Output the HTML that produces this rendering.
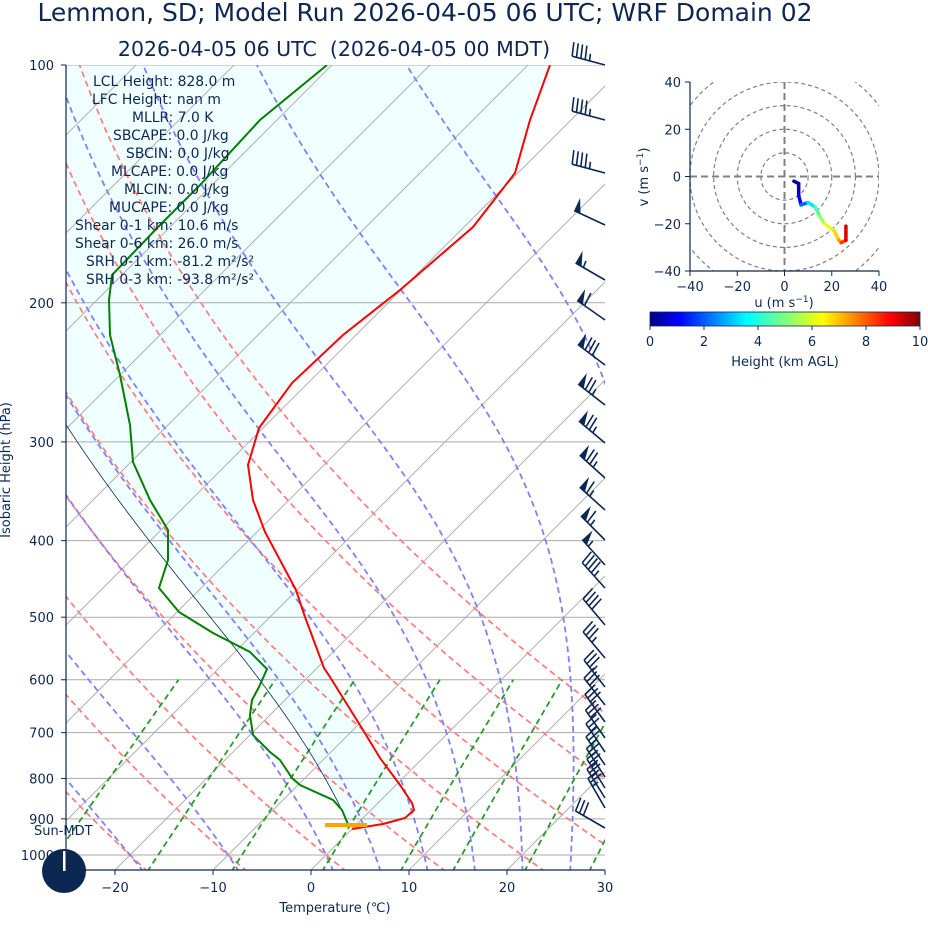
<!DOCTYPE html>
<html><head><meta charset="utf-8"><style>
html,body{margin:0;padding:0;background:#fff;}
svg{display:block;font-family:"DejaVu Sans","Liberation Sans",sans-serif;}
</style></head><body>
<svg id="s" width="928" height="936" viewBox="0 0 928 936" xmlns="http://www.w3.org/2000/svg">
<defs>
<clipPath id="pc"><rect x="66" y="65" width="539" height="805"/></clipPath>
<clipPath id="hc"><rect x="690" y="82" width="189" height="189"/></clipPath>
<linearGradient id="jet" x1="0" x2="1" y1="0" y2="0">
<stop offset="0" stop-color="#00007f"/><stop offset="0.11" stop-color="#0000ff"/><stop offset="0.36" stop-color="#00ffff"/><stop offset="0.5" stop-color="#7fff7f"/><stop offset="0.64" stop-color="#ffff00"/><stop offset="0.89" stop-color="#ff0000"/><stop offset="1" stop-color="#7f0000"/>
</linearGradient>
</defs>
<g id="plot" clip-path="url(#pc)"></g>
<g id="over"></g>
<text x="425" y="21" font-size="25" text-anchor="middle" fill="#0d2753">Lemmon, SD; Model Run 2026-04-05 06 UTC; WRF Domain 02</text>
<text x="334" y="56" font-size="20.5" text-anchor="middle" fill="#0d2753" xml:space="preserve">2026-04-05 06 UTC  (2026-04-05 00 MDT)</text>
<g font-size="13.9" fill="#0d2753">
<text x="93" y="86">LCL Height: 828.0 m</text>
<text x="92" y="104">LFC Height: nan m</text>
<text x="132" y="122">MLLR: 7.0 K</text>
<text x="113" y="140">SBCAPE: 0.0 J/kg</text>
<text x="126" y="158">SBCIN: 0.0 J/kg</text>
<text x="111" y="176">MLCAPE: 0.0 J/kg</text>
<text x="124" y="194">MLCIN: 0.0 J/kg</text>
<text x="109" y="212">MUCAPE: 0.0 J/kg</text>
<text x="75" y="230">Shear 0-1 km: 10.6 m/s</text>
<text x="75" y="248">Shear 0-6 km: 26.0 m/s</text>
<text x="86" y="266">SRH 0-1 km: -81.2 m²/s²</text>
<text x="86" y="284">SRH 0-3 km: -93.8 m²/s²</text>
</g>
<g id="axes" fill="#0d2753" font-size="13"></g>
<text x="10" y="470" font-size="13" fill="#0d2753" text-anchor="middle" transform="rotate(-90 10 470)">Isobaric Height (hPa)</text>
<text x="335" y="912" font-size="13" fill="#0d2753" text-anchor="middle">Temperature (℃)</text>
<text x="34" y="835" font-size="13" fill="#0d2753">Sun-MDT</text>
<circle cx="64" cy="871" r="22" fill="#0d2753"/>
<rect x="63" y="851" width="2.5" height="20" fill="#fff"/>
<g id="hodo"></g>
<rect x="650" y="312" width="270" height="14" fill="url(#jet)"/>
<g font-size="13" fill="#0d2753" text-anchor="middle" id="cb"></g>
<text x="785" y="366" font-size="13" fill="#0d2753" text-anchor="middle">Height (km AGL)</text>
</svg>
<script>
(function(){
var NS="http://www.w3.org/2000/svg";
function el(parent,tag,attrs,txt){var e=document.createElementNS(NS,tag);for(var k in attrs)e.setAttribute(k,attrs[k]);if(txt!==undefined)e.textContent=txt;parent.appendChild(e);return e;}
function Y(p){return 65+790*Math.log10(p/100);}
function X(T,y){return 311+9.8*T+(870-y);}
var plot=document.getElementById('plot'),over=document.getElementById('over'),axes=document.getElementById('axes');
function poly(g,pts,attrs){var d=pts.map(function(q,i){return (i?'L':'M')+q[0].toFixed(1)+' '+q[1].toFixed(1);}).join(' ');attrs.d=d;attrs.fill=attrs.fill||'none';return el(g,'path',attrs);}
var Rd=287.04,cp=1005.7,Lv=2.501e6,eps=0.622;
function dTdp(p,T){var Tc=T-273.15;var es=6.112*Math.exp(17.67*Tc/(Tc+243.5));var rs=eps*es/(p-es);return (Rd*T+Lv*rs)/(cp+Lv*Lv*rs*eps/(Rd*T*T))/p;}
function moist(p0,T0,pend){var pts=[],p=p0,T=T0+273.15,h=(pend<p0?-2:2);pts.push([p,T]);while((h<0&&p>pend)||(h>0&&p<pend)){var k1=dTdp(p,T);var k2=dTdp(p+h,T+h*k1);T+=h*(k1+k2)/2;p+=h;pts.push([p,T]);}return pts;}
var temp=[[550,65],[530,120],[515,173],[473,227],[400,290],[343,335],[292,383],[259,428],[248,465],[253,500],[265,532],[296,590],[305,617],[324,668],[330,677],[363,730],[380,758],[400,785],[412,803],[414,810],[405,818],[383,824],[352,829]];
var dew=[[327,65],[260,120],[200,185],[160,225],[112,275],[109,300],[110,335],[120,375],[130,425],[133,462],[150,500],[168,530],[168,560],[159,588],[179,612],[213,633],[250,652],[267,669],[259,687],[252,700],[250,715],[253,735],[270,752],[280,760],[292,778],[300,785],[333,800],[342,810],[347,822],[349,826]];
var pp=moist(915,-0.8,100).map(function(q){var y=Y(q[0]);return [X(q[1]-273.15,y),y];});
// fill first
poly(plot,temp.concat(pp),{fill:'#f0ffff',stroke:'none'});
// isotherms
for(var T=-120;T<=40;T+=10){poly(plot,[[X(T,870),870],[X(T,65),65]],{stroke:'#b0b0b0','stroke-width':1});}
[100,200,300,400,500,600,700,800,900,1000].forEach(function(p){poly(plot,[[66,Y(p)],[605,Y(p)]],{stroke:'#aaaaaa','stroke-width':1});});
// dry adiabats
for(var th=-30;th<=50;th+=10){var pts=[];for(var p=1050;p>=100;p-=10){var t=(th+273.15)*Math.pow(p/1000,0.2857)-273.15;var y=Y(p);pts.push([X(t,y),y]);}poly(plot,pts,{stroke:'#ff8080','stroke-width':1.8,'stroke-dasharray':'6,4'});}
// moist
[-40,-30,-20,-10,0,5,10,15,20,25,30].forEach(function(t0){var a=moist(1000,t0,100),b=moist(1000,t0,1050).reverse();var all=b.concat(a);var pts=all.map(function(q){var y=Y(q[0]);return [X(q[1]-273.15,y),y];});poly(plot,pts,{stroke:'#8080ff','stroke-width':1.8,'stroke-dasharray':'6,4'});});
// mixing ratio
[0.0004,0.001,0.002,0.004,0.007,0.01,0.016,0.024,0.032].forEach(function(w){var pts=[];for(var p=1050;p>=600;p-=10){var e=w*p/(0.622+w);var l=Math.log(e/6.112);var td=243.5*l/(17.67-l);var y=Y(p);pts.push([X(td,y),y]);}poly(plot,pts,{stroke:'#2a9a2a','stroke-width':1.8,'stroke-dasharray':'6,4'});});
poly(plot,pp,{stroke:'#0d2753','stroke-width':0.8});
poly(plot,dew,{stroke:'#008000','stroke-width':2});
poly(plot,temp,{stroke:'#ff0000','stroke-width':2});
el(plot,'rect',{x:325,y:823,width:42,height:4,fill:'#ffa500'});
// axes
el(axes,'line',{x1:66,y1:65,x2:66,y2:870,stroke:'#0d2753','stroke-width':1.2});
el(axes,'line',{x1:66,y1:870,x2:605,y2:870,stroke:'#0d2753','stroke-width':1.2});
[100,200,300,400,500,600,700,800,900,1000].forEach(function(p){var y=Y(p);el(axes,'line',{x1:61,y1:y,x2:66,y2:y,stroke:'#0d2753'});el(axes,'text',{x:54,y:y+5,'text-anchor':'end'},String(p));});
[-20,-10,0,10,20,30].forEach(function(t){var x=311+9.8*t;el(axes,'line',{x1:x,y1:870,x2:x,y2:875,stroke:'#0d2753'});el(axes,'text',{x:x,y:892,'text-anchor':'middle'},t<0?'\u2212'+(-t):String(t));});
// barbs
var barbs=[[65,285,45],[120,285,45],[173,285,45],[225,295,50],[280,300,55],[320,305,60],[365,307,80],[405,308,75],[443,310,75],[478,312,75],[510,312,65],[540,315,65],[565,318,55],[588,318,45],[625,320,40],[658,320,35],[687,322,35],[705,322,30],[722,324,30],[738,325,30],[752,326,25],[765,326,25],[777,327,25],[788,328,25],[798,328,25],[808,330,25],[828,300,30]];
barbs.forEach(function(b){var bx=605,by=b[0],D=b[1]*Math.PI/180;var dx=Math.sin(D),dy=-Math.cos(D);var rx=-dy,ry=dx;var L=34;var tx=bx+dx*L,ty=by+dy*L;
 el(over,'line',{x1:bx,y1:by,x2:tx,y2:ty,stroke:'#0d2753','stroke-width':1.6});
 var s=b[2],pos=0;var fl=Math.floor(s/50);s-=fl*50;var full=Math.floor(s/10);s-=full*10;var half=s>=5?1:0;
 for(var i=0;i<fl;i++){var ax=tx-dx*pos,ay=ty-dy*pos;var cx=tx-dx*(pos+7),cy=ty-dy*(pos+7);el(over,'path',{d:'M'+ax+' '+ay+' L'+(ax+rx*14)+' '+(ay+ry*14)+' L'+cx+' '+cy+' Z',fill:'#0d2753'});pos+=9;}
 for(var i=0;i<full;i++){var ax=tx-dx*pos,ay=ty-dy*pos;el(over,'line',{x1:ax,y1:ay,x2:ax+rx*14+dx*2,y2:ay+ry*14+dy*2,stroke:'#0d2753','stroke-width':1.6});pos+=4.5;}
 if(half){if(pos===0)pos=4.5;var ax=tx-dx*pos,ay=ty-dy*pos;el(over,'line',{x1:ax,y1:ay,x2:ax+rx*7+dx,y2:ay+ry*7+dy,stroke:'#0d2753','stroke-width':1.6});}
});
// hodograph
var hodo=document.getElementById('hodo');var cx=784.5,cy=176.5,sc=189/80;
var hg=el(hodo,'g',{'clip-path':'url(#hc)'});
[10,20,30,40,50].forEach(function(r){el(hg,'circle',{cx:cx,cy:cy,r:r*sc,fill:'none',stroke:'#808080','stroke-width':1.2,'stroke-dasharray':'4,3'});});
el(hg,'line',{x1:690,y1:cy,x2:879,y2:cy,stroke:'#808080','stroke-width':2,'stroke-dasharray':'7,4'});
el(hg,'line',{x1:cx,y1:82,x2:cx,y2:271,stroke:'#808080','stroke-width':2,'stroke-dasharray':'7,4'});
var hp=[[4,-2,0],[6,-3,0.3],[6,-8,0.8],[7,-12,1.5],[10,-11,3],[13,-13,4],[15,-17,5],[17,-20,5.7],[21,-23,6.3],[23,-27,7],[24,-28,7.5],[26,-27,8.7],[26,-21,9.5]];
function jet(v){v=Math.max(0,Math.min(1,v));var r=Math.min(Math.max(Math.min(4*v-1.5,-4*v+4.5),0),1),g=Math.min(Math.max(Math.min(4*v-0.5,-4*v+3.5),0),1),b=Math.min(Math.max(Math.min(4*v+0.5,-4*v+2.5),0),1);return 'rgb('+Math.round(r*255)+','+Math.round(g*255)+','+Math.round(b*255)+')';}
for(var i=0;i<hp.length-1;i++){el(hg,'line',{x1:cx+hp[i][0]*sc,y1:cy-hp[i][1]*sc,x2:cx+hp[i+1][0]*sc,y2:cy-hp[i+1][1]*sc,stroke:jet((hp[i][2]+hp[i+1][2])/20),'stroke-width':3.5,'stroke-linecap':'round'});}
el(hodo,'line',{x1:690,y1:82,x2:690,y2:271,stroke:'#0d2753','stroke-width':1.2});
el(hodo,'line',{x1:690,y1:271,x2:879,y2:271,stroke:'#0d2753','stroke-width':1.2});
[-40,-20,0,20,40].forEach(function(v){var x=cx+v*sc,y=cy-v*sc;var lab=v<0?'\u2212'+(-v):String(v);
 el(hodo,'line',{x1:x,y1:271,x2:x,y2:276,stroke:'#0d2753'});el(hodo,'text',{x:x,y:291,'text-anchor':'middle','font-size':13,fill:'#0d2753'},lab);
 el(hodo,'line',{x1:685,y1:y,x2:690,y2:y,stroke:'#0d2753'});el(hodo,'text',{x:681,y:y+5,'text-anchor':'end','font-size':13,fill:'#0d2753'},lab);});
var t1=el(hodo,'text',{x:784,y:307,'text-anchor':'middle','font-size':13,fill:'#0d2753'},'u (m s');el(t1,'tspan',{dy:-5,'font-size':9},'\u22121');el(t1,'tspan',{dy:5},')');
var t2=el(hodo,'text',{x:0,y:0,'text-anchor':'middle','font-size':13,fill:'#0d2753',transform:'translate(648 177) rotate(-90)'},'v (m s');el(t2,'tspan',{dy:-5,'font-size':9},'\u22121');el(t2,'tspan',{dy:5},')');
var cb=document.getElementById('cb');
for(var k=0;k<=10;k+=2){var x=650+27*k;el(cb,'line',{x1:x,y1:326,x2:x,y2:330,stroke:'#0d2753'});el(cb,'text',{x:x,y:346},String(k));}
el(cb,'rect',{x:650,y:312,width:270,height:14,fill:'none',stroke:'#0d2753','stroke-width':0.8});
})();
</script>
</body></html>
